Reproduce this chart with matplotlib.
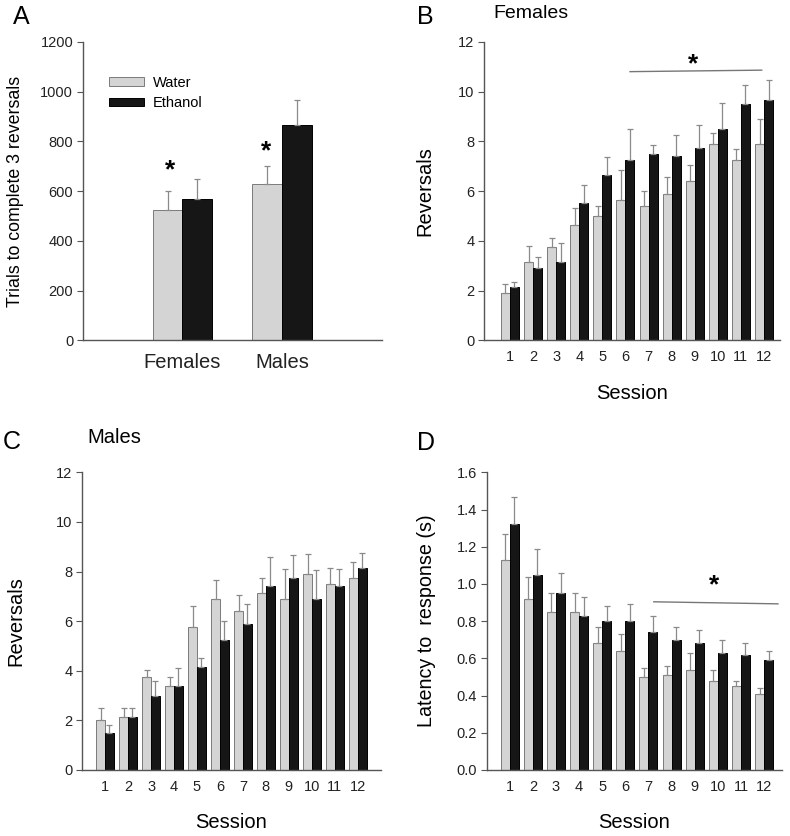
import matplotlib
matplotlib.use("Agg")
import matplotlib.pyplot as plt
import numpy as np

plt.rcParams["font.family"] = ["Liberation Sans", "DejaVu Sans"]

# panel A: trials to complete 3 reversals
groups_a = ["Females", "Males"]
water_a = np.array([522, 627])
water_a_sem = np.array([78, 73])
eth_a = np.array([567, 865])
eth_a_sem = np.array([80, 103])

sessions = np.arange(1, 13)

# panel B: females reversals
water_b = np.array([1.9, 3.15, 3.75, 4.65, 5.0, 5.65, 5.4, 5.9, 6.4, 7.9, 7.25, 7.9])
water_b_sem = np.array([0.35, 0.65, 0.35, 0.65, 0.4, 1.2, 0.6, 0.65, 0.65, 0.45, 0.45, 1.0])
eth_b = np.array([2.15, 2.9, 3.15, 5.5, 6.65, 7.25, 7.5, 7.4, 7.75, 8.5, 9.5, 9.65])
eth_b_sem = np.array([0.2, 0.45, 0.75, 0.75, 0.7, 1.25, 0.35, 0.85, 0.9, 1.05, 0.75, 0.8])

# panel C: males reversals
water_c = np.array([2.0, 2.15, 3.75, 3.4, 5.75, 6.9, 6.4, 7.15, 6.9, 7.9, 7.5, 7.75])
water_c_sem = np.array([0.5, 0.35, 0.3, 0.35, 0.85, 0.75, 0.65, 0.6, 1.2, 0.8, 0.65, 0.65])
eth_c = np.array([1.5, 2.15, 3.0, 3.4, 4.15, 5.25, 5.9, 7.4, 7.75, 6.9, 7.4, 8.15])
eth_c_sem = np.array([0.3, 0.35, 0.6, 0.7, 0.35, 0.75, 0.8, 1.2, 0.9, 1.15, 0.7, 0.6])

# panel D: latency to response
water_d = np.array([1.13, 0.92, 0.85, 0.85, 0.68, 0.64, 0.50, 0.51, 0.54, 0.48, 0.45, 0.41])
water_d_sem = np.array([0.14, 0.12, 0.10, 0.10, 0.09, 0.09, 0.05, 0.05, 0.09, 0.06, 0.03, 0.03])
eth_d = np.array([1.32, 1.05, 0.95, 0.83, 0.80, 0.80, 0.74, 0.70, 0.68, 0.63, 0.62, 0.59])
eth_d_sem = np.array([0.15, 0.14, 0.11, 0.10, 0.08, 0.09, 0.09, 0.07, 0.07, 0.07, 0.06, 0.05])

WATER = "#d4d4d4"
ETH = "#161616"
AXCOL = "#555555"
ERRCOL = "#8a8a8a"


def style_axes(ax):
    for s in ["top", "right"]:
        ax.spines[s].set_visible(False)
    for s in ["left", "bottom"]:
        ax.spines[s].set_color(AXCOL)
        ax.spines[s].set_linewidth(1.0)
    ax.tick_params(axis="y", direction="out", length=4, width=0.8, color=AXCOL,
                   labelsize=10.5, labelcolor="#222222", pad=3)
    ax.tick_params(axis="x", length=0, labelcolor="#222222")


def paired_bars(ax, x, w, w_sem, e, e_sem, width):
    ekw = dict(ecolor=ERRCOL, elinewidth=0.9, capsize=2.2, capthick=0.9)
    ax.bar(x - width / 2, w, width, color=WATER, edgecolor="#7a7a7a", linewidth=0.7,
           yerr=[np.zeros_like(w_sem), w_sem], error_kw=ekw, label="Water", zorder=2)
    ax.bar(x + width / 2, e, width, color=ETH, edgecolor="#000000", linewidth=0.7,
           yerr=[np.zeros_like(e_sem), e_sem], error_kw=ekw, label="Ethanol", zorder=2)


fig = plt.figure(figsize=(7.9, 8.36), dpi=100)
ax_a = fig.add_axes([0.105, 0.593, 0.378, 0.357])
ax_b = fig.add_axes([0.613, 0.593, 0.374, 0.357])
ax_c = fig.add_axes([0.104, 0.079, 0.378, 0.356])
ax_d = fig.add_axes([0.616, 0.079, 0.374, 0.356])

# ---- A
xa = np.arange(len(groups_a))
paired_bars(ax_a, xa, water_a, water_a_sem, eth_a, eth_a_sem, 0.3)
style_axes(ax_a)
ax_a.set_xlim(-1.0, 2.0)
ax_a.set_ylim(0, 1200)
ax_a.set_yticks(np.arange(0, 1201, 200))
ax_a.set_xticks(xa)
ax_a.set_xticklabels(groups_a, fontsize=14.5)
ax_a.tick_params(axis="x", pad=9)
ax_a.set_ylabel("Trials to complete 3 reversals", fontsize=12.8)
ax_a.yaxis.set_label_coords(-0.197, 0.5)
ax_a.legend(loc="upper left", bbox_to_anchor=(0.043, 0.93), frameon=False, fontsize=10.5,
            handlelength=2.4, handleheight=0.5, labelspacing=0.45, handletextpad=0.6)
ax_a.text(-0.12, 684, "*", fontsize=19, ha="center", va="center", fontweight="bold")
ax_a.text(0.84, 759, "*", fontsize=19, ha="center", va="center", fontweight="bold")
fig.text(0.016, 0.98, "A", fontsize=18, va="center", ha="left")

# ---- B
paired_bars(ax_b, sessions, water_b, water_b_sem, eth_b, eth_b_sem, 0.39)
style_axes(ax_b)
ax_b.set_xlim(-0.11, 12.68)
ax_b.set_ylim(0, 12)
ax_b.set_yticks(np.arange(0, 13, 2))
ax_b.set_xticks(sessions)
ax_b.tick_params(axis="x", labelsize=10.5, pad=7)
ax_b.set_ylabel("Reversals", fontsize=14.5)
ax_b.yaxis.set_label_coords(-0.17, 0.5)
ax_b.set_xlabel("Session", fontsize=14.5)
ax_b.xaxis.set_label_coords(0.5, -0.145)
ax_b.plot([6.2, 11.9], [10.8, 10.86], color="#777777", lw=1.0)
ax_b.text(8.92, 11.1, "*", fontsize=19, ha="center", va="center", fontweight="bold")
fig.text(0.528, 0.98, "B", fontsize=18, va="center", ha="left")
fig.text(0.624, 0.984, "Females", fontsize=14, va="center", ha="left")

# ---- C
paired_bars(ax_c, sessions, water_c, water_c_sem, eth_c, eth_c_sem, 0.38)
style_axes(ax_c)
ax_c.set_xlim(0.0, 13.0)
ax_c.set_ylim(0, 12)
ax_c.set_yticks(np.arange(0, 13, 2))
ax_c.set_xticks(sessions)
ax_c.tick_params(axis="x", labelsize=10.5, pad=7)
ax_c.set_ylabel("Reversals", fontsize=14.5)
ax_c.yaxis.set_label_coords(-0.19, 0.5)
ax_c.set_xlabel("Session", fontsize=14.5)
ax_c.xaxis.set_label_coords(0.5, -0.145)
fig.text(0.004, 0.471, "C", fontsize=18, va="center", ha="left")
fig.text(0.111, 0.477, "Males", fontsize=14.5, va="center", ha="left")

# ---- D
paired_bars(ax_d, sessions, water_d, water_d_sem, eth_d, eth_d_sem, 0.39)
style_axes(ax_d)
ax_d.set_xlim(0.0, 12.78)
ax_d.set_ylim(0, 1.6)
ax_d.set_yticks(np.arange(0, 1.61, 0.2))
ax_d.yaxis.set_major_formatter(matplotlib.ticker.FormatStrFormatter("%.1f"))
ax_d.set_xticks(sessions)
ax_d.tick_params(axis="x", labelsize=10.5, pad=7)
ax_d.set_ylabel("Latency to  response (s)", fontsize=14.2)
ax_d.yaxis.set_label_coords(-0.17, 0.5)
ax_d.set_xlabel("Session", fontsize=14.5)
ax_d.xaxis.set_label_coords(0.5, -0.145)
ax_d.plot([7.23, 12.6], [0.904, 0.893], color="#777777", lw=1.0)
ax_d.text(9.83, 0.99, "*", fontsize=19, ha="center", va="center", fontweight="bold")
fig.text(0.528, 0.47, "D", fontsize=18, va="center", ha="left")

fig.savefig("out.png", dpi=100)
